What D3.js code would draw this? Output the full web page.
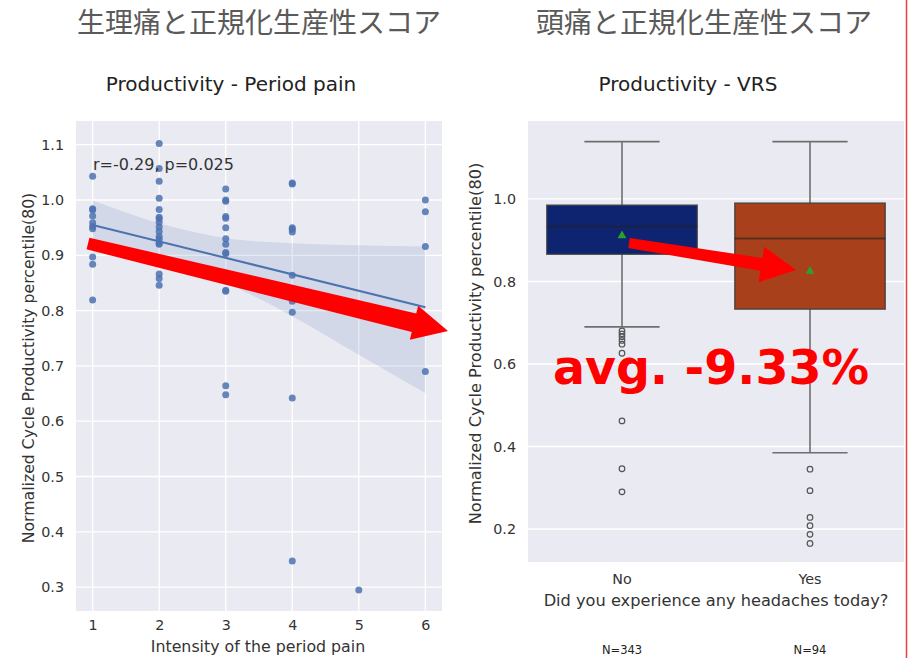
<!DOCTYPE html>
<html><head><meta charset="utf-8">
<script src="https://cdn.jsdelivr.net/npm/d3@7"></script>
<style>body{margin:0;background:#fff} svg{display:block}</style>
</head><body><svg id="c" width="908" height="658"></svg>
<script>
// ---------- DATA: left panel (Period pain scatter) ----------
const painLevels = [1, 2, 3, 4, 5, 6];
const pain1 = [1.043, 0.984, 0.982, 0.971, 0.959, 0.952, 0.948, 0.897, 0.884, 0.819];
const pain2 = [1.102, 1.057, 1.034, 1.003, 0.983, 0.969, 0.966, 0.960, 0.951, 0.943, 0.934, 0.929, 0.922, 0.920, 0.866, 0.858, 0.846];
const pain3 = [1.020, 1.000, 0.998, 0.970, 0.967, 0.950, 0.930, 0.920, 0.905, 0.903, 0.854, 0.837, 0.835, 0.664, 0.648];
const pain4 = [1.031, 1.029, 0.950, 0.947, 0.942, 0.864, 0.817, 0.797, 0.642, 0.347];
const pain5 = [0.295];
const pain6 = [1.000, 0.979, 0.916, 0.690];
const fitX = [1, 6];
const fitY = [0.955, 0.806];
const bandX = [1, 2, 3, 4, 5, 6];
const bandLow = [0.905, 0.890, 0.850, 0.790, 0.720, 0.651];
const bandHigh = [0.999, 0.958, 0.931, 0.922, 0.918, 0.916];
const leftYTicks = [0.3, 0.4, 0.5, 0.6, 0.7, 0.8, 0.9, 1.0, 1.1];
const statText = "r=-0.29, p=0.025";

// ---------- DATA: right panel (VRS boxplot) ----------
const groups = ["No", "Yes"];
const whiskerLow = [0.690, 0.385];
const q1 = [0.866, 0.733];
const median = [0.933, 0.904];
const q3 = [0.985, 0.990];
const whiskerHigh = [1.139, 1.139];
const means = [0.911, 0.825];
const outliersNo = [0.680, 0.673, 0.666, 0.657, 0.648, 0.626, 0.585, 0.462, 0.346, 0.290];
const outliersYes = [0.345, 0.293, 0.228, 0.208, 0.187, 0.165];
const counts = [343, 94];
const rightYTicks = [0.2, 0.4, 0.6, 0.8, 1.0];

// ---------- helpers ----------
const svg = d3.select("#c");
const FONT = "DejaVu Sans, Verdana, sans-serif";
const TXT = "#333";
const BG = "#eaeaf2";

function arrowPoints(x1, y1, x2, y2, w0, w1, headW, headL) {
  const dx = x2 - x1, dy = y2 - y1, L = Math.hypot(dx, dy);
  const ux = dx / L, uy = dy / L, px = -uy, py = ux;
  const bx = x2 - ux * headL, by = y2 - uy * headL;
  return [
    [x1 + px * w0 / 2, y1 + py * w0 / 2],
    [bx + px * w1 / 2, by + py * w1 / 2],
    [bx + px * headW / 2, by + py * headW / 2],
    [x2, y2],
    [bx - px * headW / 2, by - py * headW / 2],
    [bx - px * w1 / 2, by - py * w1 / 2],
    [x1 - px * w0 / 2, y1 - py * w0 / 2]
  ];
}

// ---------- LEFT PANEL ----------
const L = {x0: 76, x1: 442, y0: 121, y1: 611};
const lx = d3.scaleLinear().domain([0.75, 6.25]).range([L.x0, L.x1]);
const ly = d3.scaleLinear().domain([0.2568, 1.1429]).range([L.y1, L.y0]);
const gl = svg.append("g");
gl.append("rect").attr("x", L.x0).attr("y", L.y0).attr("width", L.x1 - L.x0).attr("height", L.y1 - L.y0).attr("fill", BG);
gl.selectAll(".gy").data(leftYTicks).join("line")
  .attr("x1", L.x0).attr("x2", L.x1).attr("y1", d => ly(d)).attr("y2", d => ly(d))
  .attr("stroke", "#fff").attr("stroke-width", 1.3);
gl.selectAll(".gx").data(painLevels).join("line")
  .attr("y1", L.y0).attr("y2", L.y1).attr("x1", d => lx(d)).attr("x2", d => lx(d))
  .attr("stroke", "#fff").attr("stroke-width", 1.3);

const lyAxis = d3.axisLeft(ly).tickValues(leftYTicks).tickFormat(d3.format(".1f")).tickSize(0).tickPadding(12);
const gya = gl.append("g").attr("transform", `translate(${L.x0},0)`).call(lyAxis);
gya.select(".domain").remove();
gya.selectAll("text").attr("font-family", FONT).attr("font-size", 14.3).attr("fill", TXT);
const lxAxis = d3.axisBottom(lx).tickValues(painLevels).tickFormat(d3.format("d")).tickSize(0).tickPadding(9);
const gxa = gl.append("g").attr("transform", `translate(0,${L.y1})`).call(lxAxis);
gxa.select(".domain").remove();
gxa.selectAll("text").attr("font-family", FONT).attr("font-size", 14.3).attr("fill", TXT);

const bandData = bandX.map((x, i) => ({x, lo: bandLow[i], hi: bandHigh[i]}));
gl.append("path").datum(bandData)
  .attr("d", d3.area().x(d => lx(d.x)).y0(d => ly(d.lo)).y1(d => ly(d.hi)).curve(d3.curveMonotoneX))
  .attr("fill", "#4c72b0").attr("fill-opacity", 0.15);
const painGroups = [pain1, pain2, pain3, pain4, pain5, pain6];
const pts = painGroups.flatMap((arr, i) => arr.map(v => ({x: painLevels[i], y: v})));
gl.selectAll(".pt").data(pts).join("circle")
  .attr("cx", d => lx(d.x)).attr("cy", d => ly(d.y)).attr("r", 3.5)
  .attr("fill", "#4c72b0").attr("fill-opacity", 0.85);
gl.append("path").datum(fitX.map((x, i) => [x, fitY[i]]))
  .attr("d", d3.line().x(d => lx(d[0])).y(d => ly(d[1])))
  .attr("stroke", "#4c72b0").attr("stroke-width", 2).attr("fill", "none");
gl.append("text").attr("x", 93).attr("y", 170).text(statText)
  .attr("font-family", FONT).attr("font-size", 16).attr("fill", TXT);

svg.append("text").attr("x", 231).attr("y", 91).attr("text-anchor", "middle")
  .attr("font-family", FONT).attr("font-size", 20).attr("fill", "#222").text("Productivity - Period pain");
svg.append("text").attr("transform", "translate(34,368) rotate(-90)").attr("text-anchor", "middle")
  .attr("font-family", FONT).attr("font-size", 15.7).attr("fill", TXT).text("Normalized Cycle Productivity percentile(80)");
svg.append("text").attr("x", 258).attr("y", 652).attr("text-anchor", "middle")
  .attr("font-family", FONT).attr("font-size", 15.8).attr("fill", TXT).text("Intensity of the period pain");
svg.append("text").attr("x", 259).attr("y", 33).attr("text-anchor", "middle")
  .attr("font-family", "Noto Sans CJK JP, sans-serif").attr("font-size", 28).attr("fill", "#5a5a5a").text("生理痛と正規化生産性スコア");

// ---------- RIGHT PANEL ----------
const R = {x0: 528, x1: 904, y0: 121, y1: 562};
const rx = d3.scaleBand().domain(groups).range([R.x0, R.x1]).padding(0);
const ry = d3.scaleLinear().domain([0.12, 1.189]).range([R.y1, R.y0]);
const gr = svg.append("g");
gr.append("rect").attr("x", R.x0).attr("y", R.y0).attr("width", R.x1 - R.x0).attr("height", R.y1 - R.y0).attr("fill", BG);
gr.selectAll(".gy").data(rightYTicks).join("line")
  .attr("x1", R.x0).attr("x2", R.x1).attr("y1", d => ry(d)).attr("y2", d => ry(d))
  .attr("stroke", "#fff").attr("stroke-width", 1.3);
const ryAxis = d3.axisLeft(ry).tickValues(rightYTicks).tickFormat(d3.format(".1f")).tickSize(0).tickPadding(12);
const rya = gr.append("g").attr("transform", `translate(${R.x0},0)`).call(ryAxis);
rya.select(".domain").remove();
rya.selectAll("text").attr("font-family", FONT).attr("font-size", 14.3).attr("fill", TXT);
const rxAxis = d3.axisBottom(rx).tickSize(0).tickPadding(12);
const rxa = gr.append("g").attr("transform", `translate(0,${R.y1})`).call(rxAxis);
rxa.select(".domain").remove();
rxa.selectAll("text").attr("font-family", FONT).attr("font-size", 14.3).attr("fill", TXT);

const boxColors = ["#0f2470", "#a8411b"];
const bw = rx.bandwidth() * 0.8;
const stats = groups.map((g, i) => ({g, i, lo: whiskerLow[i], q1: q1[i], med: median[i], q3: q3[i], hi: whiskerHigh[i], mean: means[i],
  out: i === 0 ? outliersNo : outliersYes}));
const cx = d => rx(d.g) + rx.bandwidth() / 2;
const WH = "#6f6f6f";
stats.forEach(d => {
  const c = cx(d);
  const g = gr.append("g");
  g.append("line").attr("x1", c).attr("x2", c).attr("y1", ry(d.hi)).attr("y2", ry(d.q3)).attr("stroke", WH).attr("stroke-width", 1.6);
  g.append("line").attr("x1", c).attr("x2", c).attr("y1", ry(d.q1)).attr("y2", ry(d.lo)).attr("stroke", WH).attr("stroke-width", 1.6);
  g.append("line").attr("x1", c - bw / 4).attr("x2", c + bw / 4).attr("y1", ry(d.hi)).attr("y2", ry(d.hi)).attr("stroke", WH).attr("stroke-width", 1.6);
  g.append("line").attr("x1", c - bw / 4).attr("x2", c + bw / 4).attr("y1", ry(d.lo)).attr("y2", ry(d.lo)).attr("stroke", WH).attr("stroke-width", 1.6);
  g.append("rect").attr("x", c - bw / 2).attr("y", ry(d.q3)).attr("width", bw).attr("height", ry(d.q1) - ry(d.q3))
    .attr("fill", boxColors[d.i]).attr("stroke", "#3c3c3c").attr("stroke-opacity", 0.8).attr("stroke-width", 1.5);
  g.append("line").attr("x1", c - bw / 2).attr("x2", c + bw / 2).attr("y1", ry(d.med)).attr("y2", ry(d.med))
    .attr("stroke", "#222").attr("stroke-opacity", 0.6).attr("stroke-width", 2);
  g.selectAll(".o").data(d.out).join("circle").attr("cx", c).attr("cy", v => ry(v)).attr("r", 2.8)
    .attr("fill", "none").attr("stroke", "#555").attr("stroke-width", 1.2);
  g.append("path").attr("d", d3.symbol(d3.symbolTriangle, 34)()).attr("transform", `translate(${c},${ry(d.mean)})`)
    .attr("fill", "#2ca02c");
  svg.append("text").attr("x", c).attr("y", 654).attr("text-anchor", "middle")
    .attr("font-family", FONT).attr("font-size", 11.5).attr("fill", "#222").text("N=" + counts[d.i]);
});

svg.append("text").attr("x", 688).attr("y", 91).attr("text-anchor", "middle")
  .attr("font-family", FONT).attr("font-size", 20).attr("fill", "#222").text("Productivity - VRS");
svg.append("text").attr("transform", "translate(481,343.5) rotate(-90)").attr("text-anchor", "middle")
  .attr("font-family", FONT).attr("font-size", 16.2).attr("fill", TXT).text("Normalized Cycle Productivity percentile(80)");
svg.append("text").attr("x", 716).attr("y", 606).attr("text-anchor", "middle")
  .attr("font-family", FONT).attr("font-size", 16.2).attr("fill", TXT).text("Did you experience any headaches today?");
svg.append("text").attr("x", 704).attr("y", 33).attr("text-anchor", "middle")
  .attr("font-family", "Noto Sans CJK JP, sans-serif").attr("font-size", 28).attr("fill", "#5a5a5a").text("頭痛と正規化生産性スコア");

// ---------- ANNOTATIONS ----------
svg.append("polygon").attr("points", arrowPoints(88, 243.5, 448, 331, 12, 19, 35, 35).map(p => p.join(",")).join(" "))
  .attr("fill", "#ff0000");
svg.append("polygon").attr("points", arrowPoints(629, 243, 796, 270, 10, 13, 36, 35).map(p => p.join(",")).join(" "))
  .attr("fill", "#ff0000");
svg.append("text").attr("x", 553).attr("y", 384).attr("font-family", "DejaVu Sans, sans-serif").attr("font-weight", "bold")
  .attr("font-size", 47.5).attr("fill", "#ff0000").text("avg. -9.33%");
svg.append("line").attr("x1", 906.5).attr("x2", 906.5).attr("y1", 0).attr("y2", 658).attr("stroke", "#e8403f").attr("stroke-width", 1.5);
</script></body></html>
